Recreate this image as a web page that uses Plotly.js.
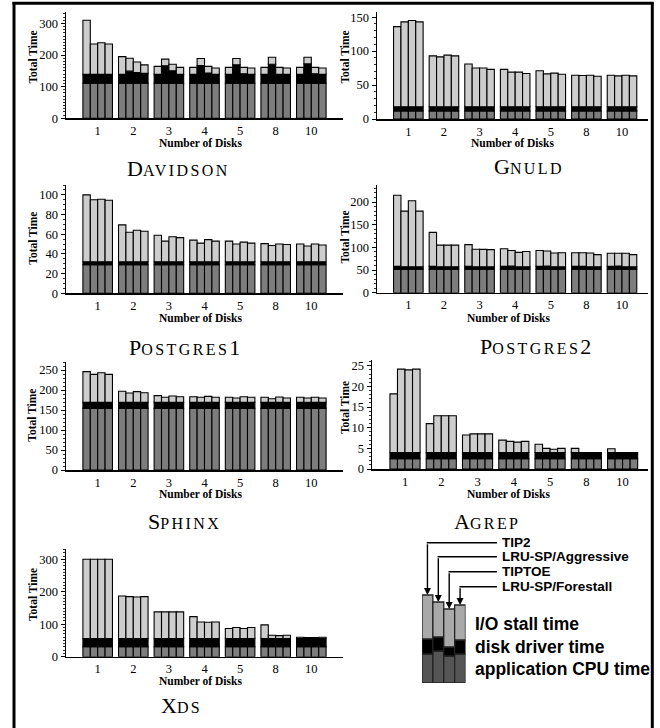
<!DOCTYPE html>
<html>
<head>
<meta charset="utf-8">
<script src="https://cdn.plot.ly/plotly-3.0.1.min.js"></script>
<style>html,body{margin:0;padding:0;background:#fff;}#chart{width:660px;height:728px;}</style>
</head>
<body>
<div id="chart"></div>
<script>
// ---------- data ----------
const groups = ['1','2','3','4','5','8','10'];
const policies = ['TIP2','LRU-SP/Aggressive','TIPTOE','LRU-SP/Forestall'];
const components = ['application CPU time','disk driver time','I/O stall time'];

// each array: one row per number of disks, one value per policy (TIP2, LRU-SP/Aggr, TIPTOE, LRU-SP/Fore)
const davidsonCpu = [[111,111,111,111],[111,111,111,111],[111,111,111,111],[111,111,111,111],[111,111,111,111],[111,111,111,111],[111,111,111,111]];
const davidsonDriver = [[28,28,28,28],[28,38,34,31],[28,55,39,28],[28,56,32,28],[28,58,30,28],[28,60,28,28],[28,61,30,28]];
const davidsonTotal = [[310,235,239,235],[195,190,178,169],[164,187,171,161],[161,189,164,159],[161,189,161,159],[161,193,161,159],[161,193,161,159]];

const gnuldCpu = [[12,12,12,12],[12,12,12,12],[12,12,12,12],[12,12,12,12],[12,12,12,12],[12,12,12,12],[12,12,12,12]];
const gnuldDriver = [[6,6,6,6],[6,6,6,6],[6,6,6,6],[6,6,6,6],[6,6,6,6],[6,6,6,6],[6,6,6,6]];
const gnuldTotal = [[136,143,145,143],[93,91.5,94,93],[81,75,75,73],[73,69,69,67],[71,66.5,67.5,66],[64.5,64,64.5,63],[64.5,63.5,64.5,63.5]];

const postgres1Cpu = [[29,29,29,29],[29,29,29,29],[29,29,29,29],[29,29,29,29],[29,29,29,29],[29,29,29,29],[29,29,29,29]];
const postgres1Driver = [[3,3,3,3],[3,3,3,3],[3,3,3,3],[3,3,3,3],[3,3,3,3],[3,3,3,3],[3,3,3,3]];
const postgres1Total = [[100,95,95.5,94.5],[69.5,62,64,63],[59,53,57.5,56.5],[54,51,54.5,53],[53,50,52,51],[50.5,48.5,50,49.5],[50,48,50,49]];

const postgres2Cpu = [[52,52,52,52],[52,52,52,52],[52,52,52,52],[52,52,52,52],[52,52,52,52],[52,52,52,52],[52,52,52,52]];
const postgres2Driver = [[6,5,5,5],[6,5,5,5],[6,5,5,5],[6,7,5,5],[6,7,5,5],[6,6,5,5],[6,7,5,5]];
const postgres2Total = [[215,180,203,180],[133,105,105,105],[106,96,95.5,95],[97,93,89,91],[93,92,87.5,88],[88,88,87.5,84],[87,87,87,84]];

const sphinxCpu = [[154,154,154,154],[154,154,154,154],[154,154,154,154],[154,154,154,154],[154,154,154,154],[154,154,154,154],[154,154,154,154]];
const sphinxDriver = [[15,15,15,15],[15,15,15,15],[15,15,15,15],[15,15,15,15],[15,15,15,15],[15,15,15,15],[15,15,15,15]];
const sphinxTotal = [[246,239,243,239],[197,192.5,196,193],[186,182,185,183],[183,182,184,182],[182,180,183,182],[182,178,182.5,180],[182,180,182,180]];

const agrepCpu = [[2.5,2.5,2.5,2.5],[2.5,2.5,2.5,2.5],[2.5,2.5,2.5,2.5],[2.5,2.5,2.5,2.5],[2.5,2.5,2.5,2.5],[2.5,2.5,2.5,2.5],[2.5,2.5,2.5,2.5]];
const agrepDriver = [[1.5,1.5,1.5,1.5],[1.5,1.5,1.5,1.5],[1.5,1.5,1.5,1.5],[1.5,1.5,1.5,1.5],[1.5,1.5,1.5,1.5],[1.5,1.5,1.5,1.5],[1.5,1.5,1.5,1.5]];
const agrepTotal = [[18.2,24.2,24,24.2],[11,12.9,12.9,12.9],[8.25,8.5,8.5,8.5],[7,6.7,6.5,6.7],[6,5,4.8,5],[5,4,4,4],[4.9,4,4,4]];

const xdsCpu = [[31,31,31,31],[31,31,31,31],[31,31,31,31],[31,31,31,31],[31,31,31,31],[31,31,31,31],[31,31,31,31]];
const xdsDriver = [[25,25,25,25],[25,25,25,25],[25,25,25,25],[25,25,25,25],[25,25,25,25],[25,25,25,25],[25,25,25,25]];
const xdsTotal = [[300,300,300,300],[187,185,184,185],[138,138,138,138],[123.5,107,106,107],[87,90,87,90],[98,66,65,66],[60,58.6,58.6,60]];

// legend illustration bars (arbitrary units)
const legendCpu = [29,32,27,29];
const legendDriver = [15,14,9,14];
const legendStall = [44,35,38,35];

const appNames = ['Davidson','Gnuld','Postgres1','Postgres2','Sphinx','Agrep','Xds'];

// ---------- styling / layout constants ----------
const W = 660, H = 728;
const px = v => v / W, py = v => 1 - v / H;
const cpuColor = '#7d7d7d', drvColor = '#000000', stallColor = '#cdcdcd';
const barW = 0.2075, groupStart = -0.415;
const serif = 'Liberation Serif, Times New Roman, serif';
const sans = 'Liberation Sans, Arial, sans-serif';

const panels = [
  {cpu:davidsonCpu, drv:davidsonDriver, tot:davidsonTotal, x:[66,343], y:[11.7,118.3], xr:[-0.89,6.89], yr:[0,337], dt:100, mdt:10,
   name:['D','AVIDSON'], nameXY:[178,168], xtXY:[200,143], ytXY:[33,57.5]},
  {cpu:gnuldCpu, drv:gnuldDriver, tot:gnuldTotal, x:[377,648], y:[11.7,119], xr:[-0.88,6.73], yr:[0,158], dt:50, mdt:10,
   name:['G','NULD'], nameXY:[529,167], xtXY:[512.5,143], ytXY:[345,57.5]},
  {cpu:postgres1Cpu, drv:postgres1Driver, tot:postgres1Total, x:[66,343], y:[185,293.3], xr:[-0.89,6.89], yr:[0,110], dt:20, mdt:5,
   name:['P','OSTGRES','1'], nameXY:[184,347.7], xtXY:[200.5,318.2], ytXY:[33,238.7]},
  {cpu:postgres2Cpu, drv:postgres2Driver, tot:postgres2Total, x:[377,648], y:[185,292.7], xr:[-0.88,6.73], yr:[0,237.6], dt:50, mdt:10,
   name:['P','OSTGRES','2'], nameXY:[535,346.7], xtXY:[508,318], ytXY:[345,237.5]},
  {cpu:sphinxCpu, drv:sphinxDriver, tot:sphinxTotal, x:[66,343], y:[361.7,470], xr:[-0.89,6.89], yr:[0,270.8], dt:50, mdt:10,
   name:['S','PHINX'], nameXY:[184,521.7], xtXY:[200,494], ytXY:[31.7,415]},
  {cpu:agrepCpu, drv:agrepDriver, tot:agrepTotal, x:[372,648], y:[360,469], xr:[-0.91,6.70], yr:[0,26.4], dt:5, mdt:1,
   name:['A','GREP'], nameXY:[487,521], xtXY:[508,494], ytXY:[345,408]},
  {cpu:xdsCpu, drv:xdsDriver, tot:xdsTotal, x:[66,343], y:[549.3,656.7], xr:[-0.89,6.89], yr:[0,330.8], dt:100, mdt:10,
   name:['X','DS'], nameXY:[181,705], xtXY:[200,681], ytXY:[33,595]}
];

const traces = [];
const layout = {
  width: W, height: H, margin:{l:0,r:0,t:0,b:0},
  paper_bgcolor:'#fff', plot_bgcolor:'rgba(0,0,0,0)',
  showlegend:false, barmode:'overlay',
  font:{family:serif, color:'#000000', size:11},
  annotations:[], shapes:[]
};

panels.forEach((p, i) => {
  const n = i + 1;
  const xa = 'x' + (n === 1 ? '' : n), ya = 'y' + (n === 1 ? '' : n);
  const xk = 'xaxis' + (n === 1 ? '' : n), yk = 'yaxis' + (n === 1 ? '' : n);
  for (let k = 0; k < policies.length; k++) {
    const c = p.cpu.map(g => g[k]);
    const d = p.drv.map(g => g[k]);
    const t = p.tot.map(g => g[k]);
    const b2 = c.map((v, j) => v + d[j]);
    const common = {type:'bar', x:groups, xaxis:xa, yaxis:ya, offset:groupStart + k*barW, width:barW,
      hoverinfo:'skip'};
    traces.push(Object.assign({}, common, {name:policies[k]+' '+components[0], y:c, base:c.map(()=>0),
      marker:{color:cpuColor, line:{color:'#000', width:1.1}}}));
    traces.push(Object.assign({}, common, {name:policies[k]+' '+components[1], y:d, base:c,
      marker:{color:drvColor, line:{color:'#000', width:1.1}}}));
    traces.push(Object.assign({}, common, {name:policies[k]+' '+components[2], y:t.map((v,j)=>v-b2[j]), base:b2,
      marker:{color:stallColor, line:{color:'#000', width:1.1}}}));
  }
  layout[xk] = {domain:[px(p.x[0]), px(p.x[1])], range:p.xr, type:'category', anchor:ya,
    showline:true, linecolor:'#000', linewidth:1.5, ticks:'', showgrid:false, zeroline:false,
    tickfont:{family:serif, size:12.5, color:'#000000'}, ticklabelstandoff:0, fixedrange:true};
  layout[yk] = {domain:[py(p.y[1]), py(p.y[0])], range:p.yr, anchor:xa,
    showline:true, linecolor:'#000', linewidth:1.5, ticks:'outside', ticklen:4, tickwidth:1, tickcolor:'#000',
    dtick:p.dt, tick0:0, minor:{dtick:p.mdt, ticks:'outside', ticklen:2, tickwidth:0.8, tickcolor:'#000'},
    showgrid:false, zeroline:false, tickfont:{family:serif, size:12.5, color:'#000000'}, ticklabelstandoff:0, fixedrange:true};

  layout.annotations.push({xref:'paper', yref:'paper', x:px(p.ytXY[0]), y:py(p.ytXY[1]), text:'<b>Total Time</b>',
    textangle:-90, showarrow:false, font:{family:serif, size:11.5, color:'#000'}, xanchor:'center', yanchor:'middle'});
  layout.annotations.push({xref:'paper', yref:'paper', x:px(p.xtXY[0]), y:py(p.xtXY[1]), text:'<b>Number of Disks</b>',
    showarrow:false, font:{family:serif, size:11.5, color:'#000'}, xanchor:'center', yanchor:'middle'});
  const sc = '<span style="font-size:16px;letter-spacing:2.4px">';
  let nm = '<span style="font-size:22px">' + p.name[0] + '</span>' + sc + p.name[1] + '</span>';
  if (p.name[2]) nm += '<span style="font-size:22px">' + p.name[2] + '</span>';
  layout.annotations.push({xref:'paper', yref:'paper', x:px(p.nameXY[0]), y:py(p.nameXY[1]), text:nm,
    showarrow:false, font:{family:serif, size:22, color:'#000'}, xanchor:'center', yanchor:'middle'});
});

// ---------- legend illustration ----------
const LG = {left:422, right:465.5, top:583, bottom:683};
const lgBarPx = (LG.right - LG.left) / policies.length;
const lgPxPerUnit = (LG.bottom - LG.top) / 100;
const lgCpuC = '#555555', lgStallC = '#a9a9a9';
const lgBase2 = legendCpu.map((v,j)=>v+legendDriver[j]);
const lgCommon = {type:'bar', x:policies, xaxis:'x8', yaxis:'y8', width:1, hoverinfo:'skip'};
traces.push(Object.assign({}, lgCommon, {y:legendCpu, base:legendCpu.map(()=>0), marker:{color:lgCpuC, line:{color:'#222', width:1.3}}}));
traces.push(Object.assign({}, lgCommon, {y:legendDriver, base:legendCpu, marker:{color:'#000', line:{color:'#222', width:1.3}}}));
traces.push(Object.assign({}, lgCommon, {y:legendStall, base:lgBase2, marker:{color:lgStallC, line:{color:'#222', width:1.3}}}));
layout.xaxis8 = {domain:[px(LG.left), px(LG.right)], range:[-0.5, 3.5], type:'category', anchor:'y8', visible:false, fixedrange:true};
layout.yaxis8 = {domain:[py(LG.bottom), py(LG.top)], range:[0,100], anchor:'x8', visible:false, fixedrange:true};

const labelY = [542.7, 556.7, 571.7, 586.7];
const labelX = 500;
policies.forEach((pol, k) => {
  const top = lgBase2[k] + legendStall[k];
  const barTopPx = LG.bottom - top * lgPxPerUnit;
  const cx = LG.left + (k + 0.5) * lgBarPx;
  layout.annotations.push({xref:'x8', yref:'y8', x:pol, y:top, ax:0, ay:-(barTopPx - labelY[k]),
    axref:'pixel', ayref:'pixel', showarrow:true, arrowhead:2, arrowsize:1, arrowwidth:1.4, arrowcolor:'#000', standoff:0, text:''});
  layout.shapes.push({type:'line', xref:'paper', yref:'paper', x0:px(cx - 0.7), x1:px(labelX - 3), y0:py(labelY[k]), y1:py(labelY[k]),
    line:{color:'#000', width:1.4}});
  layout.annotations.push({xref:'paper', yref:'paper', x:px(labelX), y:py(labelY[k]), text:'<b>'+pol+'</b>', showarrow:false,
    xanchor:'left', yanchor:'middle', font:{family:sans, size:13.5, color:'#000'}});
});
const compY = [624, 646.7, 669.3];
[components[2], components[1], components[0]].forEach((c, j) => {
  layout.annotations.push({xref:'paper', yref:'paper', x:px(472.7), y:py(compY[j]), text:'<b>'+c+'</b>', showarrow:false,
    xanchor:'left', yanchor:'middle', font:{family:sans, size:17.5, color:'#000'}});
});

// ---------- frame ----------
layout.shapes.push({type:'line', xref:'paper', yref:'paper', x0:px(12.5), x1:px(653.5), y0:py(3.3), y1:py(3.3), line:{color:'#000', width:3}});
layout.shapes.push({type:'line', xref:'paper', yref:'paper', x0:px(14), x1:px(14), y0:py(2), y1:0, line:{color:'#000', width:3}});
layout.shapes.push({type:'line', xref:'paper', yref:'paper', x0:px(652.3), x1:px(652.3), y0:py(2), y1:0, line:{color:'#000', width:3}});

Plotly.newPlot('chart', traces, layout, {staticPlot:true, displayModeBar:false});
</script>
</body>
</html>
